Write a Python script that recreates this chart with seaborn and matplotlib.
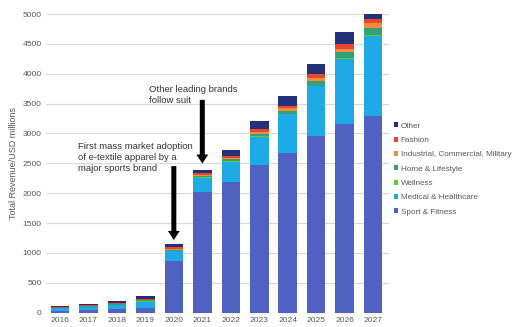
import matplotlib
matplotlib.use("Agg")
import matplotlib.pyplot as plt
import seaborn as sns
import pandas as pd
import numpy as np
from matplotlib.patches import Patch

years = ["2016", "2017", "2018", "2019", "2020", "2021", "2022", "2023", "2024", "2025", "2026", "2027"]
sport = [35, 45, 55, 75, 857, 2016, 2190, 2476, 2678, 2952, 3153, 3293]
medical = [35, 50, 70, 110, 170, 240, 335, 470, 643, 835, 1095, 1344]
wellness = [3, 4, 5, 5, 8, 10, 10, 10, 12, 15, 15, 20]
home = [7, 10, 12, 15, 20, 25, 30, 40, 50, 70, 95, 110]
industrial = [5, 6, 8, 10, 15, 20, 25, 35, 40, 60, 50, 85]
fashion = [5, 7, 10, 12, 25, 20, 30, 40, 45, 60, 85, 70]
other = [20, 28, 35, 45, 55, 65, 105, 130, 165, 180, 200, 80]

series_names = ["Sport & Fitness", "Medical & Healthcare", "Wellness", "Home & Lifestyle",
                "Industrial, Commercial, Military", "Fashion", "Other"]
series_vals = [sport, medical, wellness, home, industrial, fashion, other]
colors = ["#4f62c4", "#1daae6", "#5ccf2e", "#34a07c", "#f58a3c", "#e9472b", "#24307a"]

sns.set_theme(style="white")
plt.rcParams["font.family"] = ["Liberation Sans", "DejaVu Sans"]

fig = plt.figure(figsize=(5.13, 3.27), dpi=100)
ax = fig.add_axes([0.089, 0.044, 0.669, 0.913])

cum = np.cumsum(np.array(series_vals), axis=0)
for i in range(len(series_names) - 1, -1, -1):
    df = pd.DataFrame({"year": years, "value": cum[i]})
    sns.barplot(data=df, x="year", y="value", color=colors[i], width=0.65,
                saturation=1, ax=ax, zorder=3, linewidth=0)

ax.set_ylim(0, 5000)
ax.set_xlim(-0.5, 11.55)
ax.set_yticks(range(0, 5001, 500))
ax.yaxis.grid(True, color="#d9d9d9", linewidth=0.8, zorder=0)
ax.set_axisbelow(True)
for s in ax.spines.values():
    s.set_visible(False)
ax.tick_params(axis="both", length=0, labelsize=6.1, labelcolor="#595959", pad=3)
ax.set_xlabel("")
ax.set_ylabel("Total Revenue/USD millions", fontsize=6.5, color="#595959", labelpad=3)

arrow_style = "simple,head_width=0.85,head_length=0.65,tail_width=0.36"
ax.annotate("", xy=(4, 1170), xytext=(4, 2500),
            arrowprops=dict(arrowstyle=arrow_style, color="black", mutation_scale=10, lw=0))
ax.annotate("", xy=(5, 2450), xytext=(5, 3610),
            arrowprops=dict(arrowstyle=arrow_style, color="black", mutation_scale=10, lw=0))
ax.text(0.64, 2860, "First mass market adoption\nof e-textile apparel by a\nmajor sports brand",
        fontsize=6.8, color="#333333", va="top", ha="left", linespacing=1.3)
ax.text(3.13, 3820, "Other leading brands\nfollow suit",
        fontsize=6.8, color="#333333", va="top", ha="left", linespacing=1.3)

handles = [Patch(facecolor=colors[i], edgecolor="none") for i in range(len(series_names) - 1, -1, -1)]
labels = [series_names[i] for i in range(len(series_names) - 1, -1, -1)]
fig.legend(handles, labels, loc="upper left", bbox_to_anchor=(0.768, 0.626), frameon=False,
           fontsize=5.9, labelcolor="#595959", handlelength=0.55, handleheight=0.55,
           handletextpad=0.25, labelspacing=0.85, borderaxespad=0, borderpad=0)

fig.savefig("out.png", dpi=100)
